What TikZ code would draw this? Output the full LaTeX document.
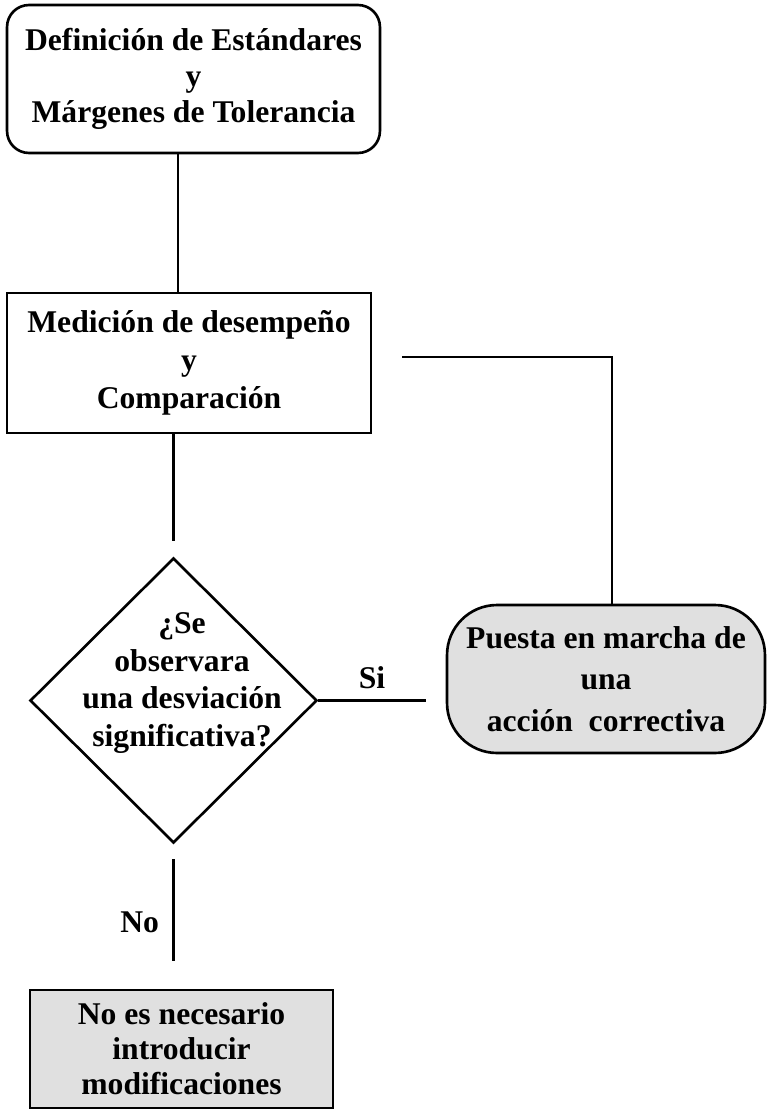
\documentclass[tikz,border=0pt]{standalone}
\usepackage{fontspec}
\setmainfont{Liberation Serif}
\usetikzlibrary{shapes.geometric}
\tikzset{
	caja/.style={draw,line width=1.5pt,align=center,inner sep=0pt},
	gris/.style={fill=black!12},
	rombo/.style={diamond,draw,line width=1.5pt,inner sep=0pt,minimum width=5.74cm,minimum height=5.7cm},
}
\newcommand\letra[1]{\fontsize{18}{#1}\selectfont\bfseries}
\begin{document}
\begin{tikzpicture}[x=.02cm,y=-.02cm,line width=1.4pt,font=\letra{21.6}]
	\useasboundingbox (0,0) rectangle (767,1109);%tamaño de la pagina
	\node[caja,rounded corners=.44cm,minimum width=7.46cm,minimum height=2.96cm,font=\letra{20.4}] (def) at (193.5,79) {Definición de Estándares\\y\\Márgenes de Tolerancia};
	\node[caja,minimum width=7.28cm,minimum height=2.8cm] (med) at (189,363) {Medición de desempeño\\y\\Comparación};
	\node[rombo] (dec) at (173.5,700.5) {};
	\node[align=center,font=\letra{21.3}] (preg) at (182,683) {¿Se\\observara\\una desviación\\significativa?};
	\node[caja,gris,rounded corners=1cm,minimum width=6.36cm,minimum height=2.96cm,font=\letra{23.6}] (acc) at (606,679) {Puesta en marcha de\\una\\acción\ \ correctiva};
	\node[caja,gris,minimum width=6.06cm,minimum height=2.36cm,font=\letra{20}] (mod) at (181.5,1049) {No es necesario\\introducir\\modificaciones};
	\coordinate (eje) at (178,0);%linea vertical de arriba
	\coordinate (ret) at (402,357);
	\draw (def.south -| eje)--(med.north -| eje);
	\draw (med.south -| dec.north)--([yshift=.32cm]dec.north);
	\draw (dec.east)--node[above=.1cm]{Si}([xshift=-.4cm]acc.west |- dec.east);
	\draw ([yshift=-.3cm]dec.south)--node[left=.15cm,pos=.62]{No}([yshift=.56cm]dec.south |- mod.north);
	\draw (ret)-|([xshift=.12cm]acc.north);
\end{tikzpicture}
\end{document}
